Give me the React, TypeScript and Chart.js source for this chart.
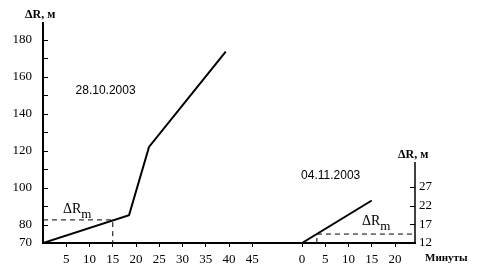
import React, { useEffect, useRef } from "react";
import { Chart, registerables } from "chart.js";

Chart.register(...registerables);

// ---- data ----
const leftMinutes = [0, 18.5, 22.8, 39.3];
const leftDR = [70, 85, 122, 173.5];
const rightMinutes = [0, 15];
const rightDR = [12, 23.4];
const leftMarkMinute = 15;
const leftMarkDR = 82.5;
const rightMarkMinute = 3.2;
const rightMarkDR = 14.4;

const leftXTicks = [5, 10, 15, 20, 25, 30, 35, 40, 45];
const rightXTicks = [0, 5, 10, 15, 20];
const leftYTicks = [70, 80, 90, 100, 110, 120, 130, 140, 150, 160, 170, 180];
const leftYLabels = ["70", "80", "", "100", "", "120", "", "140", "", "160", "", "180"];
const rightYTicks = [12, 17, 22, 27];

const leftDate = "28.10.2003";
const rightDate = "04.11.2003";
const yTitle = "ΔR, м";
const xTitle = "Минуты";

// layout constants
const RIGHT_OFFSET = 55.7; // minutes on the shared axis where the right panel starts
const X_MAX = 80;
const Y_MIN = 70;
const Y_MAX = 189;
const Y2_MIN = 12;
const Y2_MAX = 71;
const Y2_AXIS_TOP = 33.7;

const SERIF = "'Liberation Serif', 'DejaVu Serif', serif";
const SANS = "'Liberation Sans', Arial, sans-serif";

const decorPlugin = {
  id: "decor",
  afterDraw(chart: any) {
    const ctx = chart.ctx;
    const x = chart.scales.x;
    const y = chart.scales.y;
    const y2 = chart.scales.y2;
    ctx.save();
    ctx.strokeStyle = "#000";
    // inside tick marks on left axis
    ctx.lineWidth = 1;
    const lx = x.left;
    leftYTicks.forEach((v) => {
      const py = Math.round(y.getPixelForValue(v)) + 0.5;
      ctx.beginPath();
      ctx.moveTo(lx, py);
      ctx.lineTo(lx + 5, py);
      ctx.stroke();
    });
    // right axis line (partial) and its ticks
    const rx = x.right;
    ctx.lineWidth = 1.5;
    ctx.beginPath();
    ctx.moveTo(rx, y2.getPixelForValue(Y2_MIN) + 1);
    ctx.lineTo(rx, y2.getPixelForValue(Y2_AXIS_TOP));
    ctx.stroke();
    ctx.lineWidth = 1;
    rightYTicks.forEach((v) => {
      const py = Math.round(y2.getPixelForValue(v)) + 0.5;
      ctx.beginPath();
      ctx.moveTo(rx - 5, py);
      ctx.lineTo(rx, py);
      ctx.stroke();
    });

    ctx.fillStyle = "#000";
    ctx.textBaseline = "middle";
    ctx.textAlign = "left";

    // axis titles
    ctx.font = `bold 12px ${SERIF}`;
    ctx.fillText(yTitle, 25, 15);
    ctx.fillText(yTitle, 398, 155);
    ctx.font = `bold 11px ${SERIF}`;
    ctx.fillText(xTitle, 425, 258);

    // dates
    ctx.font = `12px ${SANS}`;
    ctx.fillText(leftDate, x.getPixelForValue(7), y.getPixelForValue(152.5));
    ctx.fillText(rightDate, x.getPixelForValue(RIGHT_OFFSET - 0.2), y2.getPixelForValue(30));

    // ΔRm labels
    const drawDRm = (px: number, py: number) => {
      ctx.font = `14px ${SERIF}`;
      ctx.fillText("ΔR", px, py);
      const w = ctx.measureText("ΔR").width;
      ctx.font = `13px ${SERIF}`;
      ctx.fillText("m", px + w, py + 5);
    };
    drawDRm(x.getPixelForValue(4.3), y.getPixelForValue(88.3));
    drawDRm(x.getPixelForValue(RIGHT_OFFSET + 12.9), y2.getPixelForValue(17.7));
    ctx.restore();
  },
};

export default function App() {
  const ref = useRef<HTMLCanvasElement | null>(null);

  useEffect(() => {
    if (!ref.current) return;
    const xTickValues = [...leftXTicks, ...rightXTicks.map((v) => v + RIGHT_OFFSET)];
    const xTickLabels = [...leftXTicks.map(String), ...rightXTicks.map(String)];

    const chart = new Chart(ref.current, {
      type: "line",
      data: {
        datasets: [
          {
            data: leftMinutes.map((m, i) => ({ x: m, y: leftDR[i] })),
            borderColor: "#000",
            borderWidth: 2,
            pointRadius: 0,
            yAxisID: "y",
            tension: 0,
          },
          {
            data: [
              { x: 0, y: leftMarkDR },
              { x: leftMarkMinute, y: leftMarkDR },
              { x: leftMarkMinute, y: Y_MIN },
            ],
            borderColor: "#000",
            borderWidth: 1,
            borderDash: [5, 4],
            pointRadius: 0,
            yAxisID: "y",
          },
          {
            data: rightMinutes.map((m, i) => ({ x: m + RIGHT_OFFSET, y: rightDR[i] })),
            borderColor: "#000",
            borderWidth: 2,
            pointRadius: 0,
            yAxisID: "y2",
          },
          {
            data: [
              { x: rightMarkMinute + RIGHT_OFFSET, y: Y2_MIN },
              { x: rightMarkMinute + RIGHT_OFFSET, y: rightMarkDR },
              { x: X_MAX, y: rightMarkDR },
            ],
            borderColor: "#000",
            borderWidth: 1,
            borderDash: [5, 4],
            pointRadius: 0,
            yAxisID: "y2",
          },
        ],
      },
      options: {
        animation: false,
        responsive: false,
        devicePixelRatio: 1,
        layout: { padding: { top: 23, left: 0, right: 0, bottom: 0 } },
        plugins: { legend: { display: false }, tooltip: { enabled: false } },
        scales: {
          x: {
            type: "linear",
            min: 0,
            max: X_MAX,
            afterBuildTicks: (s: any) => {
              s.ticks = xTickValues.map((v) => ({ value: v }));
            },
            afterTickToLabelConversion: (s: any) => {
              s.ticks.forEach((t: any, i: number) => (t.label = xTickLabels[i]));
            },
            afterFit: (s: any) => {
              s.height = 34;
            },
            ticks: {
              color: "#000",
              font: { family: SERIF, size: 13 },
              maxRotation: 0,
              autoSkip: false,
              padding: 5,
            },
            grid: { drawOnChartArea: false, tickLength: 4, color: "#000", lineWidth: 1 },
            border: { color: "#000", width: 2 },
          },
          y: {
            type: "linear",
            position: "left",
            min: Y_MIN,
            max: Y_MAX,
            afterBuildTicks: (s: any) => {
              s.ticks = leftYTicks.map((v) => ({ value: v }));
            },
            afterTickToLabelConversion: (s: any) => {
              s.ticks.forEach((t: any, i: number) => (t.label = leftYLabels[i]));
            },
            afterFit: (s: any) => {
              s.width = 43;
            },
            ticks: {
              color: "#000",
              font: { family: SERIF, size: 13 },
              autoSkip: false,
              padding: 11,
            },
            grid: { drawOnChartArea: false, drawTicks: false },
            border: { color: "#000", width: 2 },
          },
          y2: {
            type: "linear",
            position: "right",
            min: Y2_MIN,
            max: Y2_MAX,
            afterBuildTicks: (s: any) => {
              s.ticks = rightYTicks.map((v) => ({ value: v }));
            },
            afterFit: (s: any) => {
              s.width = 64;
            },
            ticks: {
              color: "#000",
              font: { family: SERIF, size: 13 },
              autoSkip: false,
              padding: 4,
            },
            grid: { display: false, drawTicks: false },
            border: { display: false },
          },
        },
      },
      plugins: [decorPlugin],
    });
    return () => chart.destroy();
  }, []);

  return (
    <div style={{ position: "absolute", left: 0, top: 0, width: 479, height: 277, background: "#fff" }}>
      <canvas ref={ref} width={479} height={277} />
    </div>
  );
}
